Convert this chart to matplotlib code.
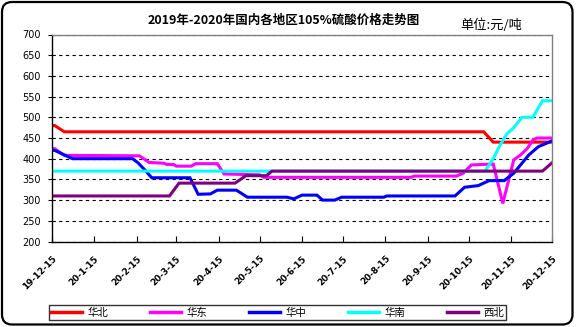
import matplotlib
matplotlib.use("Agg")
import matplotlib.pyplot as plt
import pandas as pd
from matplotlib.patches import FancyBboxPatch
from matplotlib.transforms import IdentityTransform

plt.rcParams['font.family'] = ['Noto Sans CJK SC', 'DejaVu Sans']

# price series (yuan/ton) by region, given as dated vertices of each line
north_dates = ["2019-12-15", "2019-12-17", "2019-12-24", "2020-10-26", "2020-11-02", "2020-12-15"]
north_vals = [480, 480, 465, 465, 440, 440]

east_dates = ["2019-12-15", "2019-12-17", "2019-12-24", "2020-02-17", "2020-02-24", "2020-03-06",
              "2020-03-08", "2020-03-13", "2020-03-15", "2020-03-26", "2020-03-29", "2020-04-14",
              "2020-04-19", "2020-05-15", "2020-05-18", "2020-09-03", "2020-09-05", "2020-10-06",
              "2020-10-11", "2020-10-17", "2020-11-02", "2020-11-09", "2020-11-17", "2020-11-22",
              "2020-11-27", "2020-12-01", "2020-12-04", "2020-12-15"]
east_vals = [425, 424, 408, 407, 391, 389,
             386, 386, 382, 382, 388, 388,
             363, 361, 355, 355, 358, 358,
             365, 385, 387, 292, 397, 409,
             425, 445, 450, 450]

central_dates = ["2019-12-15", "2019-12-17", "2019-12-30", "2020-02-12", "2020-02-16", "2020-02-22",
                 "2020-02-26", "2020-03-25", "2020-03-31", "2020-04-09", "2020-04-14", "2020-04-28",
                 "2020-05-06", "2020-06-04", "2020-06-09", "2020-06-15", "2020-06-26", "2020-06-30",
                 "2020-07-09", "2020-07-14", "2020-08-14", "2020-08-16", "2020-10-05", "2020-10-12",
                 "2020-10-22", "2020-10-30", "2020-11-10", "2020-11-17", "2020-11-28", "2020-12-05",
                 "2020-12-15"]
central_vals = [421, 420, 400, 400, 390, 369,
                354, 354, 314, 315, 324, 324,
                307, 307, 303, 312, 312, 300,
                300, 307, 307, 310, 310, 331,
                335, 347, 347, 365, 409, 429,
                443]

south_dates = ["2019-12-15", "2020-10-27", "2020-11-02", "2020-11-07", "2020-11-12", "2020-11-17",
               "2020-11-23", "2020-12-01", "2020-12-08", "2020-12-15"]
south_vals = [370, 370, 400, 433, 460, 475, 500, 500, 540, 540]

northwest_dates = ["2019-12-15", "2020-03-10", "2020-03-17", "2020-04-27", "2020-05-05", "2020-05-20",
                   "2020-05-24", "2020-12-08", "2020-12-15"]
northwest_vals = [310, 310, 341, 341, 359, 359, 370, 370, 390]

series = [
    ("华北", north_dates, north_vals, "#FF0000"),
    ("华东", east_dates, east_vals, "#FF00FF"),
    ("华中", central_dates, central_vals, "#0000FF"),
    ("华南", south_dates, south_vals, "#00FFFF"),
    ("西北", northwest_dates, northwest_vals, "#800080"),
]

tick_dates = ["2019-12-15", "2020-01-15", "2020-02-15", "2020-03-15", "2020-04-15", "2020-05-15",
              "2020-06-15", "2020-07-15", "2020-08-15", "2020-09-15", "2020-10-15", "2020-11-15",
              "2020-12-15"]
tick_labels = ["19-12-15", "20-1-15", "20-2-15", "20-3-15", "20-4-15", "20-5-15", "20-6-15",
               "20-7-15", "20-8-15", "20-9-15", "20-10-15", "20-11-15", "20-12-15"]

title = "2019年-2020年国内各地区105%硫酸价格走势图"
unit = "单位:元/吨"

W, H = 576, 327
fig = plt.figure(figsize=(W / 100, H / 100), dpi=100)
fig.patch.set_facecolor("white")

# rounded outer frame
frame = FancyBboxPatch((2, 2.5), 570.5, 322.5, boxstyle="round,pad=0,rounding_size=10",
                       transform=IdentityTransform(), fill=False, edgecolor="black", linewidth=1.6)
fig.patches.append(frame)

ax = fig.add_axes([52 / W, 1 - 241.5 / H, 500 / W, 207 / H])

for name, d, v, c in series:
    ax.plot(pd.to_datetime(d), v, color=c, linewidth=2.2, label=name, solid_joinstyle="miter")

ax.set_xlim(pd.Timestamp("2019-12-15"), pd.Timestamp("2020-12-15"))
ax.set_ylim(200, 700)
ax.set_yticks(range(200, 701, 50))
ax.yaxis.grid(True, color="black", linestyle=(0, (3, 3)), linewidth=0.8)
ax.set_axisbelow(True)

ax.set_xticks(pd.to_datetime(tick_dates))
ax.set_xticklabels(tick_labels, rotation=45, ha="right", rotation_mode="anchor",
                   fontsize=6.3, family="DejaVu Sans", fontweight="bold")
ax.tick_params(axis="x", direction="in", length=4, width=0.8, pad=9)
ax.tick_params(axis="y", direction="out", length=3, width=0.8, labelsize=7, pad=5)
for lab in ax.get_yticklabels():
    lab.set_family("DejaVu Sans")

ax.spines["left"].set_color("black")
ax.spines["bottom"].set_color("black")
ax.spines["top"].set_color("#808080")
ax.spines["right"].set_color("#808080")
for s in ax.spines.values():
    s.set_linewidth(1.0)

fig.text(284 / W, 1 - 20 / H, title, ha="center", va="center", fontsize=9, fontweight="bold")
fig.text(491 / W, 1 - 25 / H, unit, ha="center", va="center", fontsize=9.5)

leg = fig.legend(loc="center", bbox_to_anchor=(277.5 / W, 1 - 312.5 / H), ncol=5,
                 fontsize=7.5, frameon=True, fancybox=False, handlelength=3.0,
                 handletextpad=0.5, columnspacing=4.0, borderpad=0.25)
leg.get_frame().set_edgecolor("black")
leg.get_frame().set_linewidth(1.0)
for line in leg.get_lines():
    line.set_linewidth(2.5)

fig.savefig("out.png", dpi=100)
